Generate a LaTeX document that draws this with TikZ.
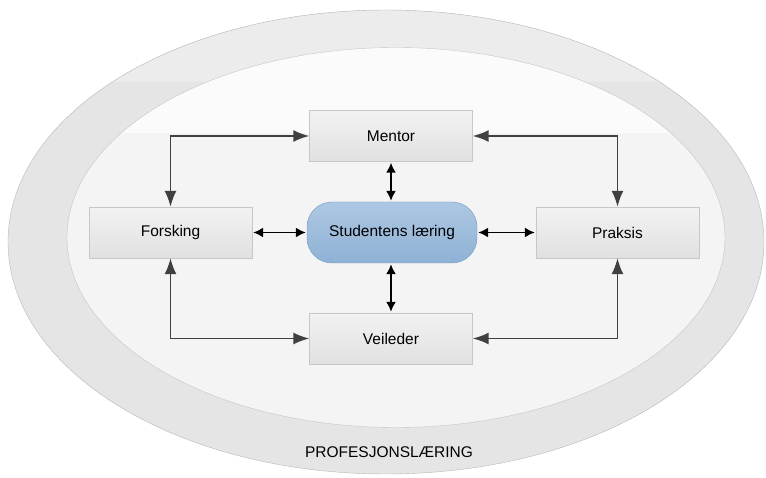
\documentclass[tikz,border=0pt]{standalone}
\usepackage{xcolor}
\usepackage{fontspec}
\setmainfont{Liberation Sans}
\usetikzlibrary{arrows.meta}

\definecolor{anneau}{HTML}{E5E5E5}
\definecolor{anneauclair}{HTML}{ECECEC}
\definecolor{bordanneau}{HTML}{B8B8B8}
\definecolor{interieur}{HTML}{F4F4F4}
\definecolor{interieurclair}{HTML}{FBFBFB}
\definecolor{bordinterieur}{HTML}{C4C4C4}
\definecolor{bleuhaut}{HTML}{ADC8E3}
\definecolor{bleubas}{HTML}{8FB1D5}
\definecolor{bordbleu}{HTML}{7398C0}

\begin{document}
\begin{tikzpicture}[x=1pt,y=-1pt]
    % Styles
    \tikzstyle{fleche}=[<->,>={Latex[length=16pt,width=12pt]},line width=1.8pt,draw=black!75]
    \tikzstyle{flechecourte}=[<->,>={Latex[length=10pt,width=10pt]},line width=1.7pt,shorten <=1pt,shorten >=1pt]
    \tikzstyle{boite}=[draw=black!22,top color=black!5,bottom color=black!12,minimum width=163pt,minimum height=51pt,font=\fontsize{15.5}{18}\selectfont]
    \tikzstyle{centre}=[draw=bordbleu,top color=bleuhaut,bottom color=bleubas,rounded corners=25pt,minimum width=170pt,minimum height=61pt,font=\fontsize{15.5}{18}\selectfont]
    % Dimensions
    \def\ColonneA{170.5}
    \def\ColonneB{391}
    \def\ColonneC{617.5}
    \def\LigneA{136}
    \def\LigneB{232.5}
    \def\LigneC{338.5}
    % Fond
    \useasboundingbox (0,0) rectangle (766,478);
    \fill[white] (0,0) rectangle (766,478);
    \fill[anneau] (386,242) ellipse [x radius=378pt,y radius=232pt];
    \begin{scope}
        \clip (386,242) ellipse [x radius=378pt,y radius=232pt];
        \fill[anneauclair] (0,0) rectangle (766,82);
    \end{scope}
    \draw[bordanneau] (386,242) ellipse [x radius=378pt,y radius=232pt];
    \fill[interieur] (396,237.5) ellipse [x radius=329pt,y radius=190pt];
    \begin{scope}
        \clip (396,237.5) ellipse [x radius=329pt,y radius=190pt];
        \fill[interieurclair] (0,0) rectangle (766,133);
    \end{scope}
    \draw[bordinterieur] (396,237.5) ellipse [x radius=329pt,y radius=190pt];
    % Noeuds
    \node[boite] (Mentor) at (\ColonneB,\LigneA) {Mentor};
    \node[boite] (Forsking) at (\ColonneA,\LigneB) {Forsking};
    \node[centre] (Student) at (392,\LigneB) {Studentens læring};
    \node[boite] (Praksis) at (\ColonneC,\LigneB) {Praksis};
    \node[boite] (Veileder) at (\ColonneB,\LigneC) {Veileder};
    \node[font=\fontsize{15.5}{18}\selectfont] (Profesjon) at (389,452) {PROFESJONSLÆRING};
    % Arcs
    \draw[fleche] (Mentor.west) -| (Forsking.north);
    \draw[fleche] (Mentor.east) -| (Praksis.north);
    \draw[fleche] (Forsking.south) |- (Veileder.west);
    \draw[fleche] (Praksis.south) |- (Veileder.east);
    \draw[flechecourte] (Mentor.south) -- (Mentor.south |- Student.north);
    \draw[flechecourte] (Forsking.east) -- (Student.west);
    \draw[flechecourte] (Student.east) -- (Praksis.west);
    \draw[flechecourte] (Veileder.north |- Student.south) -- (Veileder.north);
\end{tikzpicture}
\end{document}
